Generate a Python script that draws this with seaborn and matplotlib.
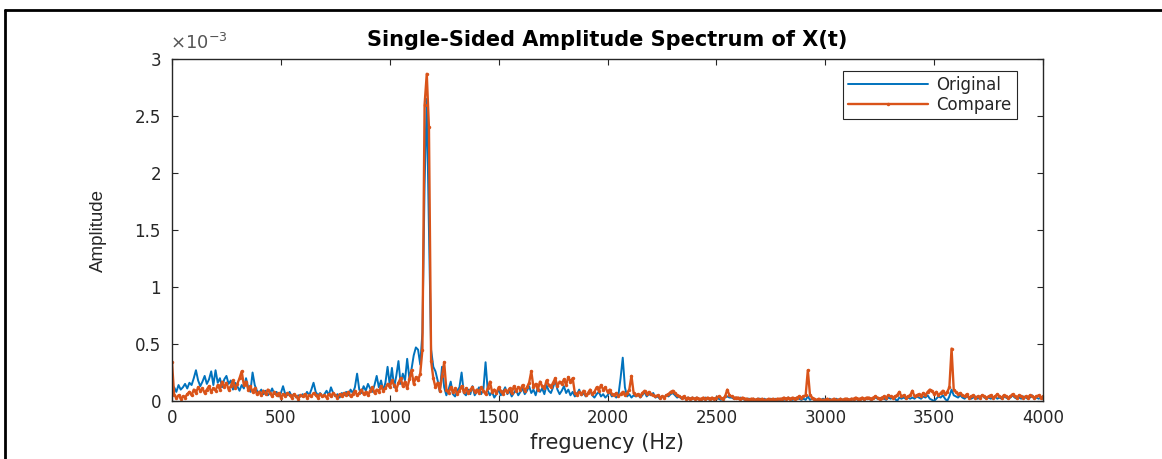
import numpy as np
import pandas as pd
import matplotlib
matplotlib.use("Agg")
import matplotlib.pyplot as plt
from matplotlib.lines import Line2D
from matplotlib.ticker import FuncFormatter
import seaborn as sns

# amplitudes, in units of 1e-3, one value every 10 Hz (0..4000 Hz)
original = [
    0.03, 0.12, 0.08, 0.14, 0.10, 0.12, 0.15, 0.11, 0.16, 0.14, 0.20, 0.27, 0.18, 0.13, 0.17, 0.22, 0.15, 0.19, 0.26, 0.14,
    0.27, 0.16, 0.20, 0.12, 0.19, 0.22, 0.15, 0.18, 0.10, 0.16, 0.13, 0.09, 0.14, 0.11, 0.20, 0.12, 0.08, 0.25, 0.14, 0.09,
    0.07, 0.10, 0.06, 0.09, 0.05, 0.07, 0.11, 0.06, 0.08, 0.04, 0.07, 0.13, 0.06, 0.05, 0.08, 0.04, 0.06, 0.03, 0.05, 0.04,
    0.06, 0.04, 0.08, 0.05, 0.10, 0.16, 0.08, 0.05, 0.07, 0.04, 0.06, 0.09, 0.05, 0.12, 0.07, 0.04, 0.06, 0.03, 0.07, 0.05,
    0.08, 0.05, 0.10, 0.07, 0.12, 0.24, 0.10, 0.07, 0.13, 0.09, 0.15, 0.11, 0.08, 0.14, 0.22, 0.12, 0.18, 0.09, 0.16, 0.30,
    0.14, 0.29, 0.12, 0.22, 0.35, 0.15, 0.24, 0.18, 0.37, 0.20, 0.28, 0.40, 0.47, 0.45, 0.32, 0.60, 1.90, 2.65, 1.50, 0.45,
    0.30, 0.26, 0.18, 0.08, 0.30, 0.12, 0.05, 0.10, 0.17, 0.06, 0.04, 0.09, 0.12, 0.25, 0.07, 0.05, 0.10, 0.06, 0.13, 0.05,
    0.08, 0.12, 0.06, 0.10, 0.34, 0.09, 0.05, 0.08, 0.03, 0.06, 0.10, 0.05, 0.08, 0.12, 0.06, 0.09, 0.04, 0.07, 0.10, 0.05,
    0.08, 0.11, 0.06, 0.09, 0.13, 0.07, 0.10, 0.05, 0.12, 0.08, 0.11, 0.06, 0.14, 0.09, 0.07, 0.12, 0.18, 0.10, 0.06, 0.09,
    0.13, 0.07, 0.10, 0.05, 0.08, 0.04, 0.06, 0.10, 0.05, 0.07, 0.04, 0.06, 0.09, 0.05, 0.03, 0.06, 0.08, 0.04, 0.06, 0.03,
    0.05, 0.08, 0.04, 0.06, 0.03, 0.05, 0.20, 0.38, 0.12, 0.04, 0.06, 0.03, 0.05, 0.04, 0.06, 0.03, 0.05, 0.08, 0.04, 0.06,
    0.05, 0.07, 0.03, 0.04, 0.02, 0.04, 0.03, 0.05, 0.04, 0.06, 0.07, 0.05, 0.03, 0.04, 0.02, 0.03, 0.02, 0.03, 0.02, 0.03,
    0.02, 0.03, 0.02, 0.01, 0.02, 0.03, 0.02, 0.01, 0.02, 0.02, 0.03, 0.02, 0.01, 0.02, 0.03, 0.04, 0.03, 0.03, 0.02, 0.03,
    0.02, 0.03, 0.02, 0.01, 0.02, 0.02, 0.01, 0.02, 0.01, 0.02, 0.02, 0.01, 0.02, 0.01, 0.01, 0.02, 0.01, 0.02, 0.01, 0.01,
    0.02, 0.01, 0.02, 0.03, 0.02, 0.01, 0.02, 0.03, 0.02, 0.01, 0.02, 0.01, 0.04, 0.01, 0.02, 0.01, 0.00, 0.01, 0.01, 0.02,
    0.01, 0.01, 0.02, 0.01, 0.01, 0.02, 0.01, 0.02, 0.01, 0.01, 0.02, 0.01, 0.02, 0.01, 0.02, 0.01, 0.02, 0.02, 0.01, 0.02,
    0.02, 0.01, 0.02, 0.03, 0.02, 0.02, 0.03, 0.02, 0.01, 0.03, 0.02, 0.03, 0.02, 0.00, 0.03, 0.02, 0.03, 0.02, 0.03, 0.02,
    0.03, 0.02, 0.04, 0.03, 0.02, 0.04, 0.03, 0.05, 0.02, 0.01, 0.00, 0.02, 0.04, 0.03, 0.05, 0.02, 0.00, 0.04, 0.10, 0.05,
    0.04, 0.03, 0.05, 0.03, 0.02, 0.04, 0.03, 0.02, 0.03, 0.04, 0.02, 0.03, 0.05, 0.03, 0.02, 0.03, 0.02, 0.03, 0.04, 0.02,
    0.03, 0.02, 0.04, 0.03, 0.02, 0.03, 0.05, 0.03, 0.02, 0.03, 0.02, 0.04, 0.03, 0.02, 0.03, 0.05, 0.02, 0.03, 0.02, 0.03,
    0.02,
]

compare = [
    0.34, 0.05, 0.03, 0.05, 0.02, 0.04, 0.03, 0.06, 0.08, 0.05, 0.10, 0.07, 0.12, 0.09, 0.11, 0.07, 0.10, 0.13, 0.08, 0.11,
    0.09, 0.14, 0.10, 0.17, 0.12, 0.16, 0.10, 0.13, 0.18, 0.11, 0.15, 0.20, 0.26, 0.14, 0.17, 0.10, 0.13, 0.08, 0.11, 0.06,
    0.08, 0.05, 0.09, 0.06, 0.10, 0.07, 0.04, 0.08, 0.05, 0.07, 0.03, 0.06, 0.04, 0.07, 0.05, 0.03, 0.06, 0.04, 0.02, 0.05,
    0.04, 0.06, 0.03, 0.05, 0.04, 0.07, 0.05, 0.03, 0.06, 0.04, 0.05, 0.03, 0.06, 0.04, 0.07, 0.05, 0.03, 0.06, 0.04, 0.07,
    0.05, 0.08, 0.04, 0.06, 0.09, 0.05, 0.07, 0.10, 0.06, 0.08, 0.05, 0.09, 0.12, 0.07, 0.10, 0.08, 0.13, 0.09, 0.11, 0.15,
    0.12, 0.18, 0.14, 0.10, 0.16, 0.20, 0.13, 0.17, 0.11, 0.19, 0.27, 0.15, 0.21, 0.18, 0.24, 0.45, 2.60, 2.87, 2.40, 0.35,
    0.20, 0.12, 0.16, 0.09, 0.22, 0.34, 0.10, 0.07, 0.12, 0.08, 0.11, 0.06, 0.09, 0.13, 0.08, 0.11, 0.07, 0.10, 0.12, 0.08,
    0.10, 0.07, 0.12, 0.09, 0.06, 0.11, 0.17, 0.08, 0.10, 0.07, 0.12, 0.09, 0.06, 0.10, 0.08, 0.11, 0.07, 0.13, 0.09, 0.12,
    0.10, 0.14, 0.09, 0.12, 0.16, 0.26, 0.12, 0.15, 0.10, 0.17, 0.13, 0.11, 0.18, 0.14, 0.12, 0.16, 0.20, 0.13, 0.17, 0.15,
    0.19, 0.14, 0.21, 0.17, 0.20, 0.07, 0.05, 0.08, 0.06, 0.09, 0.05, 0.07, 0.10, 0.06, 0.08, 0.12, 0.09, 0.14, 0.10, 0.12,
    0.08, 0.10, 0.06, 0.05, 0.07, 0.04, 0.06, 0.08, 0.05, 0.07, 0.10, 0.22, 0.07, 0.05, 0.06, 0.04, 0.07, 0.09, 0.06, 0.08,
    0.06, 0.05, 0.04, 0.05, 0.03, 0.04, 0.03, 0.05, 0.06, 0.08, 0.09, 0.07, 0.05, 0.04, 0.03, 0.04, 0.02, 0.03, 0.02, 0.03,
    0.02, 0.03, 0.02, 0.02, 0.03, 0.02, 0.03, 0.02, 0.03, 0.02, 0.03, 0.04, 0.03, 0.02, 0.04, 0.10, 0.05, 0.04, 0.03, 0.03,
    0.03, 0.02, 0.03, 0.02, 0.02, 0.01, 0.02, 0.02, 0.01, 0.02, 0.01, 0.02, 0.01, 0.01, 0.02, 0.01, 0.02, 0.01, 0.02, 0.02,
    0.02, 0.03, 0.02, 0.03, 0.02, 0.03, 0.02, 0.03, 0.04, 0.03, 0.04, 0.05, 0.27, 0.05, 0.03, 0.02, 0.01, 0.02, 0.01, 0.01,
    0.01, 0.02, 0.01, 0.01, 0.02, 0.01, 0.01, 0.02, 0.01, 0.02, 0.02, 0.01, 0.02, 0.02, 0.03, 0.02, 0.02, 0.03, 0.02, 0.03,
    0.03, 0.02, 0.03, 0.04, 0.03, 0.02, 0.03, 0.04, 0.03, 0.05, 0.04, 0.03, 0.04, 0.05, 0.08, 0.04, 0.05, 0.03, 0.04, 0.05,
    0.09, 0.04, 0.05, 0.06, 0.04, 0.07, 0.05, 0.08, 0.10, 0.09, 0.06, 0.08, 0.05, 0.07, 0.09, 0.06, 0.08, 0.12, 0.46, 0.10,
    0.08, 0.06, 0.07, 0.05, 0.04, 0.06, 0.03, 0.04, 0.05, 0.03, 0.04, 0.03, 0.05, 0.04, 0.03, 0.04, 0.05, 0.03, 0.04, 0.06,
    0.04, 0.03, 0.05, 0.04, 0.03, 0.04, 0.06, 0.04, 0.03, 0.05, 0.04, 0.03, 0.04, 0.03, 0.05, 0.04, 0.03, 0.04, 0.05, 0.03,
    0.04,
]

freq = np.arange(0, 4001, 10)
x_ticks = [0, 500, 1000, 1500, 2000, 2500, 3000, 3500, 4000]
y_ticks = [0, 0.5, 1, 1.5, 2, 2.5, 3]

df = pd.DataFrame({
    "freq": freq,
    "Original": np.array(original) * 1e-3,
    "Compare": np.array(compare) * 1e-3,
})

sns.set_style("ticks")
plt.rcParams["font.family"] = ["DejaVu Sans"]
text_col = "#262626"

fig = plt.figure(figsize=(11.62, 4.59), dpi=100)
ax = fig.add_axes([172 / 1162, 58 / 459, 871 / 1162, 342 / 459])

sns.lineplot(data=df, x="freq", y="Original", ax=ax, color="#0072BD",
             linewidth=1.4, label="Original")
sns.lineplot(data=df, x="freq", y="Compare", ax=ax, color="#D95319",
             linewidth=1.7, marker=".", markersize=5, markeredgewidth=0,
             label="Compare")

ax.set_xlim(0, 4000)
ax.set_ylim(0, 3e-3)
ax.set_xticks(x_ticks)
ax.set_yticks([v * 1e-3 for v in y_ticks])
ax.yaxis.set_major_formatter(FuncFormatter(lambda v, p: f"{v * 1e3:g}"))
ax.text(-0.002, 1.018, r"$\times 10^{-3}$", transform=ax.transAxes, fontsize=13,
        color="#555555", ha="left", va="bottom")

ax.tick_params(axis="both", direction="in", length=4, width=0.8,
               top=True, right=True, labelsize=12, labelcolor=text_col, color=text_col)
ax.tick_params(axis="x", pad=6)
ax.tick_params(axis="y", pad=8)
for sp in ax.spines.values():
    sp.set_color(text_col)
    sp.set_linewidth(1.0)

ax.set_title("Single-Sided Amplitude Spectrum of X(t)", fontsize=15,
             fontweight="bold", pad=9, color="black")
ax.set_xlabel("freguency (Hz)", fontsize=15, color=text_col)
ax.xaxis.set_label_coords(0.5, -0.095)
ax.set_ylabel("Amplitude", fontsize=13.5, color=text_col,
              family=["Liberation Sans Narrow", "Liberation Sans", "DejaVu Sans"])
ax.yaxis.set_label_coords(-0.075, 0.5)

leg = ax.legend(loc="upper right", bbox_to_anchor=(0.970, 0.965), borderaxespad=0,
                fontsize=12, frameon=True, fancybox=False, framealpha=1,
                handlelength=4.8, handletextpad=0.5, labelspacing=0.1,
                borderpad=0.3)
leg.get_frame().set_edgecolor(text_col)
leg.get_frame().set_linewidth(0.8)
for t in leg.get_texts():
    t.set_color(text_col)

# outer frame of the screenshot (top and left edges)
fig.add_artist(Line2D([5 / 1162, 1], [1 - 10 / 459, 1 - 10 / 459],
                      transform=fig.transFigure, color="black", linewidth=2))
fig.add_artist(Line2D([5 / 1162, 5 / 1162], [0, 1 - 10 / 459],
                      transform=fig.transFigure, color="black", linewidth=2))

fig.savefig("out.png", dpi=100, facecolor="white")
